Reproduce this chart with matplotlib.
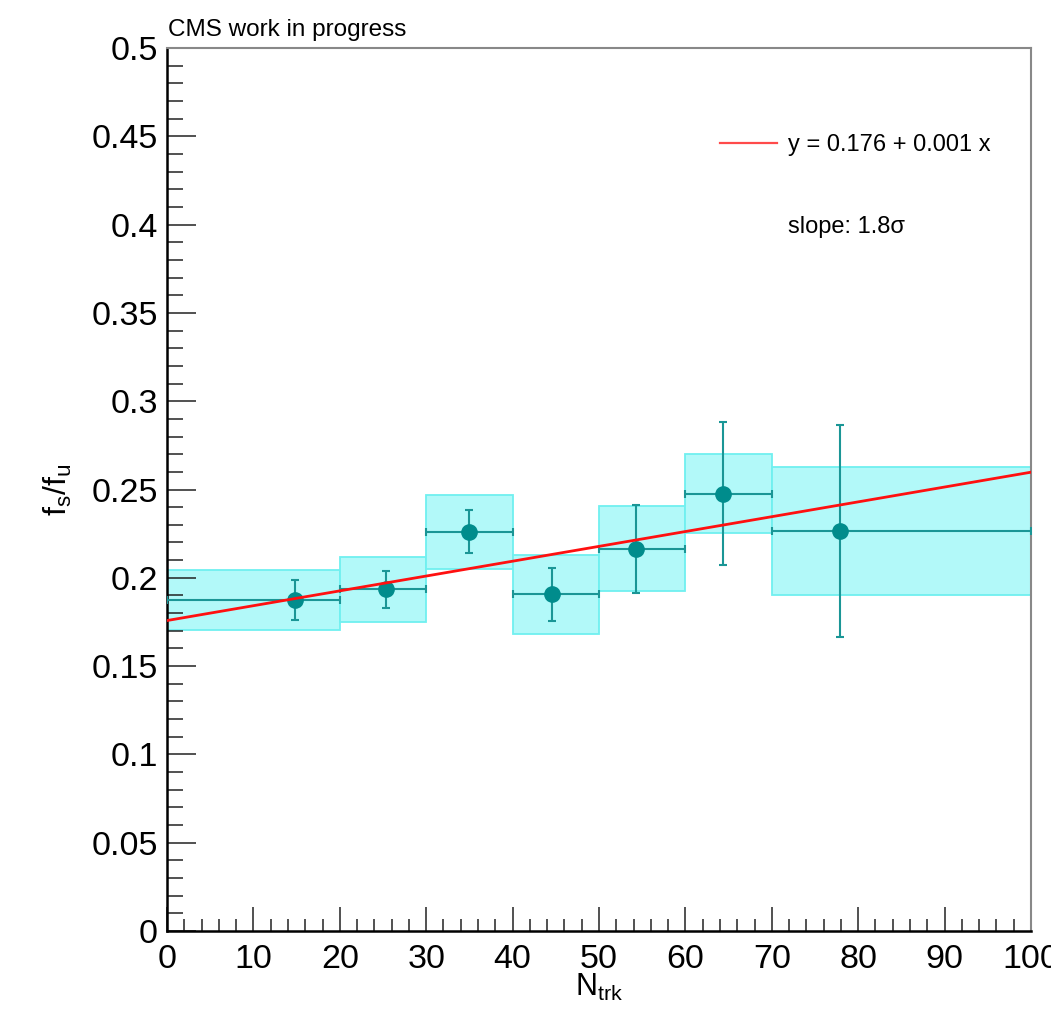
import matplotlib
matplotlib.use("Agg")
import matplotlib.pyplot as plt
from matplotlib.lines import Line2D
from matplotlib.ticker import MultipleLocator
import numpy as np

plt.rcParams["font.family"] = ["Liberation Sans", "DejaVu Sans"]
plt.rcParams["mathtext.fontset"] = "custom"
plt.rcParams["mathtext.rm"] = "Liberation Sans"
plt.rcParams["mathtext.it"] = "Liberation Sans:italic"

# N_trk bins
bin_lo = [0, 20, 30, 40, 50, 60, 70]
bin_hi = [20, 30, 40, 50, 60, 70, 100]
ntrk_mean = [14.8, 25.3, 34.9, 44.6, 54.3, 64.3, 77.9]

# fs/fu per bin with statistical and systematic uncertainties
fs_fu = [0.1873, 0.1934, 0.2261, 0.1906, 0.2165, 0.2477, 0.2264]
stat_err = [0.0114, 0.0103, 0.0122, 0.0151, 0.0250, 0.0403, 0.0602]
syst_err = [0.0170, 0.0184, 0.0210, 0.0224, 0.0240, 0.0226, 0.0362]

# linear fit result
fit_p0 = 0.1758
fit_p1 = 0.00084
slope_sig = 1.8

xticks = [0, 10, 20, 30, 40, 50, 60, 70, 80, 90, 100]
xticklabels = ["0", "10", "20", "30", "40", "50", "60", "70", "80", "90", "100"]
yticks = [0, 0.05, 0.1, 0.15, 0.2, 0.25, 0.3, 0.35, 0.4, 0.45, 0.5]
yticklabels = ["0", "0.05", "0.1", "0.15", "0.2", "0.25", "0.3", "0.35", "0.4", "0.45", "0.5"]

W, H = 1051, 1009
fig = plt.figure(figsize=(W / 100, H / 100), dpi=100)
ax = fig.add_axes([167 / W, 1 - 931 / H, 864 / W, 883 / H])

lo = np.array(bin_lo, float)
hi = np.array(bin_hi, float)
xm = np.array(ntrk_mean)
y = np.array(fs_fu)
syst = np.array(syst_err)

# systematic boxes
ax.bar(lo, 2 * syst, width=hi - lo, bottom=y - syst, align="edge",
       color="#b2f9f9", edgecolor="#70f0f0", linewidth=1.3, zorder=1)

# data points with statistical errors and bin widths
ax.errorbar(xm, y, yerr=stat_err, xerr=[xm - lo, hi - xm], fmt="o",
            color="#008c8c", ecolor="#1a9696", markersize=11, elinewidth=1.5,
            capsize=2.6, capthick=1.5, zorder=3)

# fit line
xf = np.array([0.0, 100.0])
ax.plot(xf, fit_p0 + fit_p1 * xf, color="#ff1010", linewidth=2.0, zorder=4)

ax.set_xlim(0, 100)
ax.set_ylim(0, 0.5)
ax.set_xticks(xticks)
ax.set_xticklabels(xticklabels)
ax.set_yticks(yticks)
ax.set_yticklabels(yticklabels)
ax.xaxis.set_minor_locator(MultipleLocator(2))
ax.yaxis.set_minor_locator(MultipleLocator(0.01))

ax.tick_params(axis="both", which="both", direction="in", top=False, right=False,
               colors="#222222", labelcolor="black", labelsize=24.5, width=1.1)
ax.tick_params(axis="y", which="major", length=21, pad=6.5)
ax.tick_params(axis="y", which="minor", length=11.3)
ax.tick_params(axis="x", which="major", length=17.3, pad=9)
ax.tick_params(axis="x", which="minor", length=8.6)

for side in ("left", "bottom"):
    ax.spines[side].set_color("black")
    ax.spines[side].set_linewidth(1.8)
for side in ("top", "right"):
    ax.spines[side].set_color("#888888")
    ax.spines[side].set_linewidth(1.5)

# legend
handle = Line2D([], [], color="#ff4a4a", linewidth=1.6)
ax.legend([handle], [f"y = {fit_p0:.3f} + {fit_p1:.3f} x"], loc="center left",
          bbox_to_anchor=(720 / W, 1 - 145.5 / H), bbox_transform=fig.transFigure,
          frameon=False, fontsize=17, borderpad=0, borderaxespad=0,
          handlelength=2.4, handletextpad=0.47)

fig.text(788 / W, 1 - 233 / H, f"slope: {slope_sig:.1f}\u03c3", fontsize=17,
         ha="left", va="baseline")
fig.text(168 / W, 1 - 36 / H, "CMS work in progress", fontsize=17.5,
         ha="left", va="baseline")

fig.text(57.5 / W, 1 - 490 / H, r"f$_{\mathrm{s}}$/f$_{\mathrm{u}}$", fontsize=23,
         rotation=90, ha="center", va="center")
fig.text(599 / W, 1 - 996 / H, r"N$_{\mathrm{trk}}$", fontsize=22,
         ha="center", va="baseline")

fig.savefig("out.png", dpi=100)
